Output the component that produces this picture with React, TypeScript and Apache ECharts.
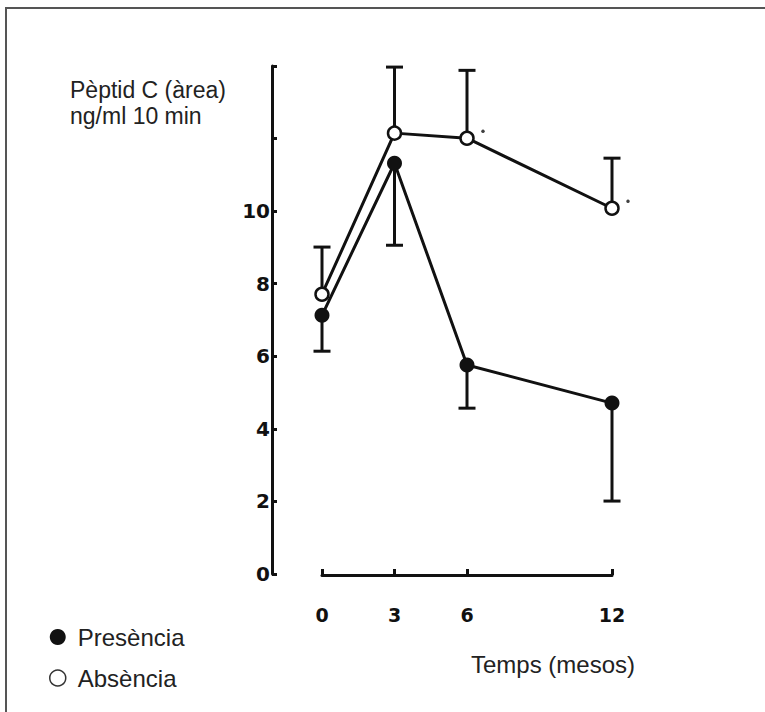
import React, { useEffect, useRef } from "react";
import * as echarts from "echarts";

const months = [0, 3, 6, 12];
const presence = [7.13, 11.32, 5.76, 4.71];
const presenceLower = [6.14, 9.06, 4.57, 2.01];
const absence = [7.71, 12.15, 12.01, 10.08];
const absenceUpper = [9.01, 13.97, 13.88, 11.46];
const significantMonths = [6, 12];
const yTickLabels = [0, 2, 4, 6, 8, 10];
const xTickLabels = [0, 3, 6, 12];

const INK = "#111";

export default function App() {
  const ref = useRef<HTMLDivElement>(null);
  useEffect(() => {
    if (!ref.current) return;
    const chart = echarts.init(ref.current, null, { renderer: "svg" });

    const errRender = (params: any, api: any) => {
      const x = api.value(0);
      const from = api.coord([x, api.value(1)]);
      const to = api.coord([x, api.value(2)]);
      const hw = 8.5;
      return {
        type: "group",
        children: [
          {
            type: "line",
            shape: { x1: from[0], y1: from[1], x2: to[0], y2: to[1] },
            style: { stroke: INK, lineWidth: 3 },
          },
          {
            type: "line",
            shape: { x1: to[0] - hw, y1: to[1], x2: to[0] + hw, y2: to[1] },
            style: { stroke: INK, lineWidth: 3 },
          },
        ],
      };
    };

    const option: any = {
      animation: false,
      backgroundColor: "#fff",
      title: [
        {
          text: "Pèptid C (àrea)\nng/ml 10 min",
          left: 65,
          top: 72,
          textStyle: {
            fontFamily: "Liberation Sans, Arial, sans-serif",
            fontSize: 23,
            fontWeight: "normal",
            color: "#222",
            lineHeight: 26,
          },
        },
        {
          text: "Temps (mesos)",
          left: 466,
          top: 647,
          textStyle: {
            fontFamily: "Liberation Sans, Arial, sans-serif",
            fontSize: 24,
            fontWeight: "normal",
            color: "#222",
          },
        },
      ],
      legend: {
        orient: "vertical",
        left: 44,
        top: 620,
        itemWidth: 30,
        itemHeight: 16,
        itemGap: 17,
        textStyle: {
          fontFamily: "Liberation Sans, Arial, sans-serif",
          fontSize: 24,
          color: "#222",
          padding: [0, 0, 0, 0],
        },
        data: [
          {
            name: "Presència",
            icon: "circle",
            itemStyle: { color: INK, borderWidth: 0 },
          },
          {
            name: "Absència",
            icon: "circle",
            itemStyle: { color: "#fff", borderColor: "#333", borderWidth: 1.5 },
          },
        ],
      },
      grid: { left: 322, right: 153, top: 66, bottom: 138 },
      xAxis: {
        type: "value",
        min: 0,
        max: 12,
        offset: 1,
        splitLine: { show: false },
        axisLine: { onZero: false, lineStyle: { color: INK, width: 3 } },
        axisTick: {
          inside: true,
          length: 6,
          customValues: xTickLabels,
          lineStyle: { color: INK, width: 3 },
        },
        axisLabel: {
          customValues: xTickLabels,
          margin: 30,
          fontFamily: "DejaVu Sans, sans-serif",
          fontWeight: "bold",
          fontSize: 19,
          color: INK,
        },
      },
      yAxis: {
        type: "value",
        min: 0,
        max: 14,
        interval: 2,
        offset: 50,
        splitLine: { show: false },
        axisLine: { show: true, onZero: false, lineStyle: { color: INK, width: 3 } },
        axisTick: {
          show: true,
          inside: true,
          length: 5,
          lineStyle: { color: INK, width: 3 },
        },
        axisLabel: {
          customValues: yTickLabels,
          margin: 2,
          fontFamily: "DejaVu Sans, sans-serif",
          fontWeight: "bold",
          fontSize: 20,
          color: INK,
        },
      },
      series: [
        {
          name: "errPresence",
          type: "custom",
          renderItem: errRender,
          z: 1,
          data: months.map((m, i) => [m, presence[i], presenceLower[i]]),
        },
        {
          name: "errAbsence",
          type: "custom",
          renderItem: errRender,
          z: 1,
          data: months.map((m, i) => [m, absence[i], absenceUpper[i]]),
        },
        {
          name: "Absència",
          type: "line",
          z: 3,
          data: months.map((m, i) => [m, absence[i]]),
          symbol: "circle",
          symbolSize: 13,
          lineStyle: { color: INK, width: 3 },
          itemStyle: { color: "#fff", borderColor: INK, borderWidth: 2.5 },
        },
        {
          name: "Presència",
          type: "line",
          z: 4,
          data: months.map((m, i) => [m, presence[i]]),
          symbol: "circle",
          symbolSize: 15,
          lineStyle: { color: INK, width: 3 },
          itemStyle: { color: INK },
        },
        {
          name: "sig",
          type: "scatter",
          z: 5,
          data: significantMonths.map((m) => [m, absence[months.indexOf(m)]]),
          symbol: "circle",
          symbolSize: 3.5,
          symbolOffset: [16, -7],
          itemStyle: { color: INK },
        },
      ],
      graphic: [
        {
          type: "rect",
          shape: { x: 6, y: 8, width: 900, height: 900 },
          style: { fill: "none", stroke: "#555", lineWidth: 2 },
          silent: true,
        },
      ],
    };
    chart.setOption(option);
    return () => chart.dispose();
  }, []);
  return (
    <div
      ref={ref}
      style={{ position: "fixed", left: 0, top: 0, width: 765, height: 712 }}
    />
  );
}
